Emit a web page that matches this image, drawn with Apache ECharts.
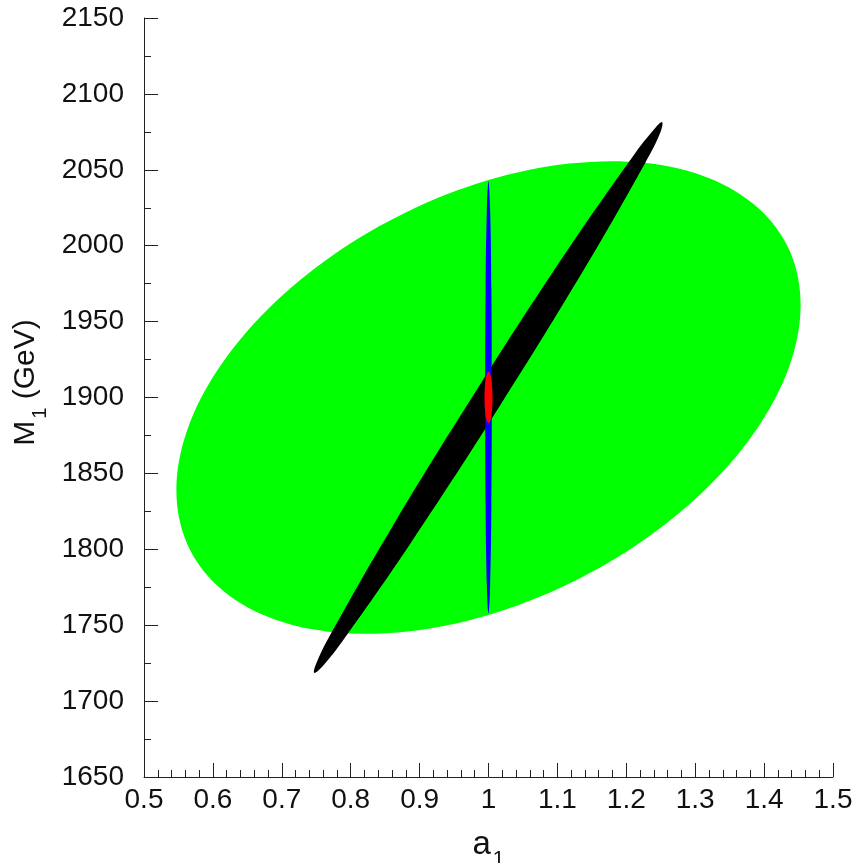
<!DOCTYPE html>
<html><head><meta charset="utf-8">
<script src="https://cdn.jsdelivr.net/npm/echarts@6/dist/echarts.min.js"></script>
<style>html,body{margin:0;padding:0;background:#fff}#c{width:867px;height:863px}</style>
</head><body><div id="c"></div>
<script>
// Axis ranges and steps
const xRange = [0.5, 1.5];
const xStep = 0.1;
const yRange = [1650, 2150];
const yStep = 50;

// Boundary points [a1, M1]
const greenRegion = [
  [1.453, 1961.1], [1.4376, 1921.9], [1.3923, 1881.3], [1.3203, 1841.9], [1.2265, 1806.5],
  [1.1172, 1777.5], [1.000, 1756.8], [0.8828, 1745.9], [0.7735, 1745.4], [0.6797, 1755.5],
  [0.6077, 1775.5], [0.5624, 1803.9], [0.547, 1838.9], [0.5624, 1878.1], [0.6077, 1918.7],
  [0.6797, 1958.1], [0.7735, 1993.5], [0.8828, 2022.5], [1.000, 2043.2], [1.1172, 2054.1],
  [1.2265, 2054.6], [1.3203, 2044.5], [1.3923, 2024.5], [1.4376, 1996.1]
];
const blackRegion = [
  [1.252, 2081.4], [1.2488, 2073.9], [1.2276, 2054.7], [1.1413, 1986.4], [1.0172, 1895.0],
  [0.8884, 1805.0], [0.7895, 1740.4], [0.7602, 1723.5], [0.747, 1718.6], [0.7512, 1726.1],
  [0.7724, 1745.3], [0.8587, 1813.6], [0.9828, 1904.9], [1.1116, 1995.0], [1.2105, 2059.5],
  [1.2398, 2076.4]
];
const blueRegion = [
  [1.0, 2042.5], [1.0024, 2023.4], [1.0042, 1971.3], [1.0048, 1900.0], [1.0042, 1828.7],
  [1.0024, 1776.6], [1.0, 1757.8], [0.9976, 1776.6], [0.9958, 1828.7], [0.9952, 1900.0],
  [0.9958, 1971.3], [0.9976, 2023.4]
];
const redRegion = [
  [1.0, 1917.0], [1.0029, 1914.7], [1.005, 1908.5], [1.0058, 1900.0], [1.005, 1891.5],
  [1.0029, 1885.3], [1.0, 1883.0], [0.9971, 1885.3], [0.995, 1891.5], [0.9942, 1900.0],
  [0.995, 1908.5], [0.9971, 1914.7]
];

function region(name, pts, color, z, smooth) {
  return {
    type: 'custom', name: name, coordinateSystem: 'cartesian2d', z: z,
    data: [pts[0]], silent: true, clip: false,
    renderItem: function (params, api) {
      return {
        type: 'polygon',
        shape: { points: pts.map(function (p) { return api.coord(p); }), smooth: smooth },
        style: { fill: color, stroke: null }
      };
    }
  };
}

const FONT = '"Liberation Sans", Arial, sans-serif';
const axisCommon = {
  axisLine: { show: true, onZero: false, lineStyle: { color: '#222', width: 1 } },
  axisTick: { show: true, inside: true, length: 14, lineStyle: { color: '#222', width: 1 } },
  minorTick: { show: true, length: 7, lineStyle: { color: '#222', width: 1 } },
  splitLine: { show: false },
  minorSplitLine: { show: false },
  axisLabel: { color: '#111', fontFamily: FONT, fontSize: 28, formatter: function (v) { return String(+v.toFixed(2)); } }
};

const chart = echarts.init(document.getElementById('c'), null, { renderer: 'canvas' });
chart.setOption({
  animation: false,
  backgroundColor: '#fff',
  grid: { left: 144, right: 34, top: 18, bottom: 86, containLabel: false, outerBoundsMode: 'none' },
  xAxis: Object.assign({}, axisCommon, {
    type: 'value', min: xRange[0], max: xRange[1], interval: xStep,
    minorTick: Object.assign({}, axisCommon.minorTick, { splitNumber: 5 }),
    axisLabel: Object.assign({}, axisCommon.axisLabel, { margin: 9, showMinLabel: true, showMaxLabel: true }),
    name: '{a|a}{s|1}', nameLocation: 'middle', nameGap: 42,
    nameTextStyle: {
      rich: {
        a: { fontFamily: FONT, fontSize: 33, color: '#111' },
        s: { fontFamily: FONT, fontSize: 21, color: '#111', padding: [30, 0, 0, 2] }
      }
    }
  }),
  yAxis: Object.assign({}, axisCommon, {
    type: 'value', min: yRange[0], max: yRange[1], interval: yStep,
    minorTick: Object.assign({}, axisCommon.minorTick, { splitNumber: 2 }),
    axisLabel: Object.assign({}, axisCommon.axisLabel, { margin: 20 }),
    name: '{a|M}{s|1}{a| (GeV)}', nameLocation: 'middle', nameRotate: 90, nameGap: 76,
    nameTextStyle: {
      padding: [0, 0, 0, 30],
      rich: {
        a: { fontFamily: FONT, fontSize: 30, color: '#111' },
        s: { fontFamily: FONT, fontSize: 20, color: '#111', padding: [30, 0, 0, 2] }
      }
    }
  }),
  series: [
    region('green', greenRegion, '#00ff00', 1, 0.34),
    region('black', blackRegion, '#000000', 2, 0.4),
    region('blue', blueRegion, '#0000ff', 3, 0.4),
    region('red', redRegion, '#ff0000', 4, 0.4)
  ]
});
</script>
</body></html>
